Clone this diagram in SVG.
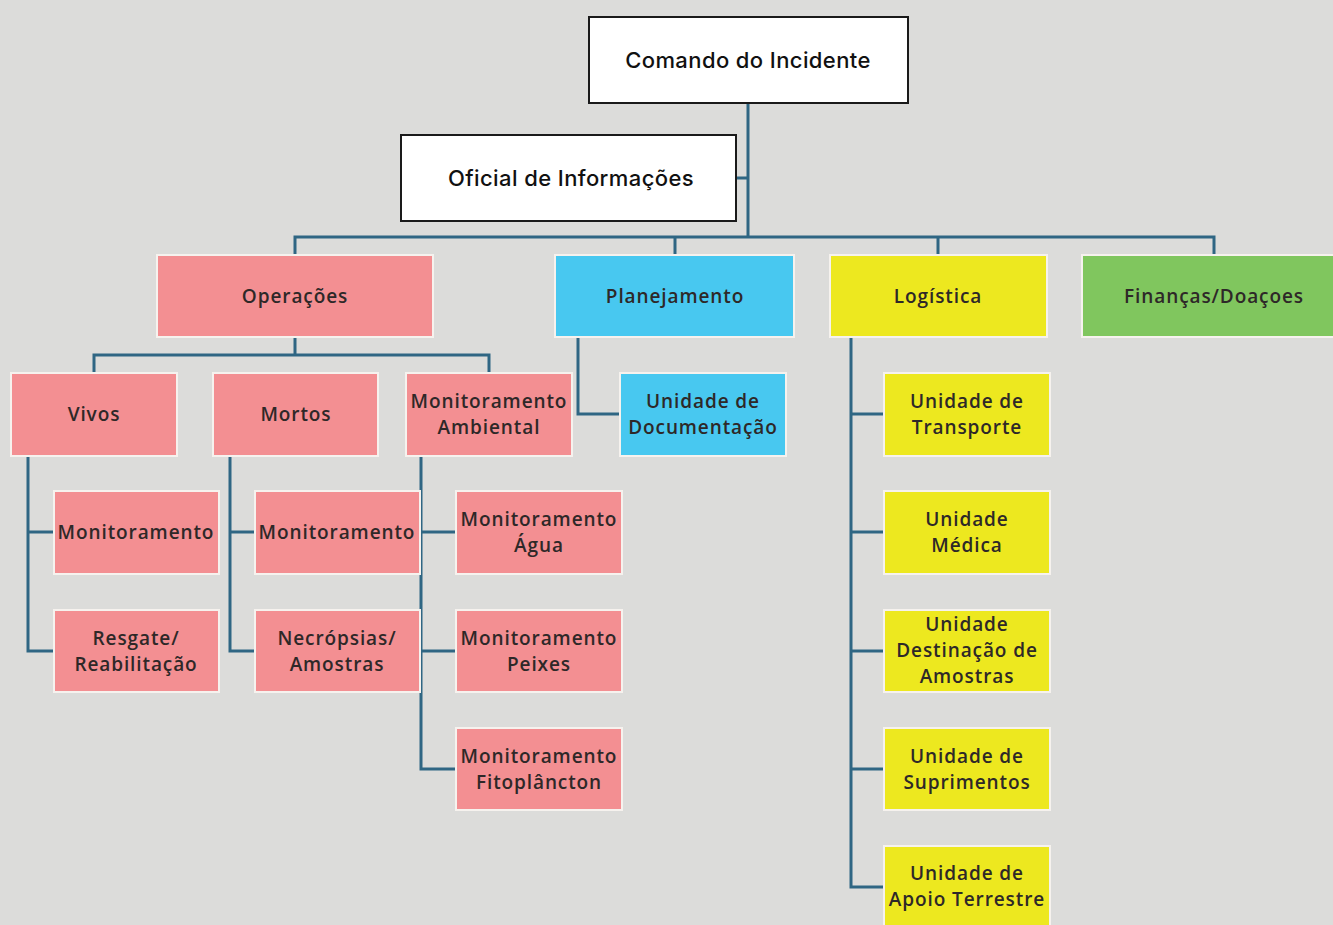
<svg xmlns="http://www.w3.org/2000/svg" width="1333" height="925" viewBox="0 0 1333 925">
<style>
.bg{fill:#dcdcda}
.top rect{fill:#ffffff;stroke:#1a1a1a;stroke-width:2}
.top text{font-family:Inter,"Liberation Sans",sans-serif;font-size:22px;font-weight:500;fill:#111;text-anchor:middle;dominant-baseline:central;letter-spacing:0.4px}
.n rect{stroke:#f6f2ee;stroke-width:2}
.n text{font-family:"Open Sans","Liberation Sans",sans-serif;font-size:19px;font-weight:600;fill:#2e2828;text-anchor:middle;dominant-baseline:central;letter-spacing:0.9px}
.pink rect{fill:#f38f92}
.blue rect{fill:#48c8f0}
.yellow rect{fill:#ede81f}
.green rect{fill:#80c65e}
#connectors path{fill:none;stroke:#2f6683;stroke-width:3}
</style>
<rect class="bg" x="0" y="0" width="1333" height="925"/>

<g id="connectors">
<path d="M748,103 V237"/>
<path d="M736,178 H748"/>
<path d="M295,255 V237 H1214 V255"/>
<path d="M675,237 V255"/>
<path d="M938,237 V255"/>
<path d="M295,337 V355"/>
<path d="M94,373 V355 H489 V373"/>
<path d="M578,337 V414 H620"/>
<path d="M28,456 V651 H54"/>
<path d="M28,532 H54"/>
<path d="M230,456 V651 H255"/>
<path d="M230,532 H255"/>
<path d="M421,456 V769 H456"/>
<path d="M421,532 H456"/>
<path d="M421,651 H456"/>
<path d="M851,337 V887 H884"/>
<path d="M851,414 H884"/>
<path d="M851,532 H884"/>
<path d="M851,651 H884"/>
<path d="M851,769 H884"/>
</g>

<g id="comando" class="top"><rect x="589" y="17" width="319" height="86"/><text x="748" y="60">Comando do Incidente</text></g>
<g id="oficial" class="top"><rect x="401" y="135" width="335" height="86"/><text x="571" y="178">Oficial de Informações</text></g>

<g id="operacoes" class="n pink"><rect x="157" y="255" width="276" height="82"/><text x="295" y="296">Operações</text></g>
<g id="planejamento" class="n blue"><rect x="555" y="255" width="239" height="82"/><text x="675" y="296">Planejamento</text></g>
<g id="logistica" class="n yellow"><rect x="830" y="255" width="217" height="82"/><text x="938" y="296">Logística</text></g>
<g id="financas" class="n green"><rect x="1082" y="255" width="256" height="82"/><text x="1214" y="296">Finanças/Doaçoes</text></g>

<g id="vivos" class="n pink"><rect x="11" y="373" width="166" height="83"/><text x="94" y="414">Vivos</text></g>
<g id="mortos" class="n pink"><rect x="213" y="373" width="165" height="83"/><text x="296" y="414">Mortos</text></g>
<g id="mon-ambiental" class="n pink"><rect x="406" y="373" width="166" height="83"/><text x="489" y="401">Monitoramento</text><text x="489" y="427">Ambiental</text></g>
<g id="unid-documentacao" class="n blue"><rect x="620" y="373" width="166" height="83"/><text x="703" y="401">Unidade de</text><text x="703" y="427">Documentação</text></g>

<g id="vivos-monitoramento" class="n pink"><rect x="54" y="491" width="165" height="83"/><text x="136" y="532">Monitoramento</text></g>
<g id="resgate" class="n pink"><rect x="54" y="610" width="165" height="82"/><text x="136" y="638">Resgate/</text><text x="136" y="664">Reabilitação</text></g>
<g id="mortos-monitoramento" class="n pink"><rect x="255" y="491" width="165" height="83"/><text x="337" y="532">Monitoramento</text></g>
<g id="necropsias" class="n pink"><rect x="255" y="610" width="165" height="82"/><text x="337" y="638">Necrópsias/</text><text x="337" y="664">Amostras</text></g>
<g id="mon-agua" class="n pink"><rect x="456" y="491" width="166" height="83"/><text x="539" y="519">Monitoramento</text><text x="539" y="545">Água</text></g>
<g id="mon-peixes" class="n pink"><rect x="456" y="610" width="166" height="82"/><text x="539" y="638">Monitoramento</text><text x="539" y="664">Peixes</text></g>
<g id="mon-fito" class="n pink"><rect x="456" y="728" width="166" height="82"/><text x="539" y="756">Monitoramento</text><text x="539" y="782">Fitoplâncton</text></g>

<g id="unid-transporte" class="n yellow"><rect x="884" y="373" width="166" height="83"/><text x="967" y="401">Unidade de</text><text x="967" y="427">Transporte</text></g>
<g id="unid-medica" class="n yellow"><rect x="884" y="491" width="166" height="83"/><text x="967" y="519">Unidade</text><text x="967" y="545">Médica</text></g>
<g id="unid-destinacao" class="n yellow"><rect x="884" y="610" width="166" height="82"/><text x="967" y="624">Unidade</text><text x="967" y="650">Destinação de</text><text x="967" y="676">Amostras</text></g>
<g id="unid-suprimentos" class="n yellow"><rect x="884" y="728" width="166" height="82"/><text x="967" y="756">Unidade de</text><text x="967" y="782">Suprimentos</text></g>
<g id="unid-apoio" class="n yellow"><rect x="884" y="846" width="166" height="84"/><text x="967" y="873">Unidade de</text><text x="967" y="899">Apoio Terrestre</text></g>
</svg>
